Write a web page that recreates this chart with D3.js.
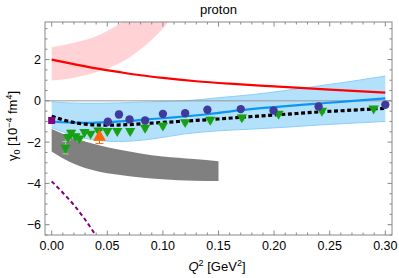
<!DOCTYPE html>
<html><head><meta charset="utf-8">
<script src="https://cdn.jsdelivr.net/npm/d3@7"></script>
<style>body{margin:0;background:#fff}svg{display:block;font-family:"Liberation Sans",Arial,sans-serif}</style>
</head><body>
<svg id="c" width="399" height="278"></svg>
<script>
// ---- data ----
const xTicks = [0.00, 0.05, 0.10, 0.15, 0.20, 0.25, 0.30];
const yTicks = [-6, -4, -2, 0, 2];
const pinkQ     = [0, 0.02, 0.04, 0.06, 0.07, 0.08, 0.10, 0.11];
const pinkLow   = [0.98, 1.12, 1.38, 1.8, 2.1, 2.5, 3.5, 4.2];
const pinkHigh  = [2.6, 2.82, 3.13, 3.7, 4.1, 4.6, 5.5, 6.0];
const redQ = [0, 0.02, 0.04, 0.06, 0.08, 0.10, 0.13, 0.16, 0.20, 0.25, 0.30];
const redV = [2.0, 1.78, 1.57, 1.40, 1.24, 1.11, 0.95, 0.83, 0.70, 0.54, 0.40];
const blueBandQ = [0, 0.03, 0.06, 0.09, 0.12, 0.15, 0.18, 0.21, 0.24, 0.27, 0.30];
const blueBandHigh = [-0.05, -0.12, -0.1, -0.05, 0.0, 0.15, 0.3, 0.5, 0.72, 0.95, 1.2];
const blueBandLow  = [-1.3, -1.82, -1.97, -1.85, -1.6, -1.45, -1.37, -1.28, -1.17, -1.08, -1.0];
const blueQ = [0, 0.03, 0.05, 0.07, 0.09, 0.11, 0.14, 0.17, 0.20, 0.23, 0.26, 0.30];
const blueV = [-1.0, -1.07, -1.03, -0.97, -0.88, -0.8, -0.65, -0.45, -0.3, -0.17, -0.05, 0.12];
const dashQ = [0, 0.01, 0.02, 0.03, 0.04, 0.05, 0.07, 0.09, 0.12, 0.15, 0.18, 0.21, 0.24, 0.27, 0.30];
const dashV = [-0.75, -0.92, -1.05, -1.13, -1.17, -1.18, -1.15, -1.08, -0.98, -0.88, -0.76, -0.65, -0.54, -0.45, -0.36];
const grayQ = [0, 0.02, 0.04, 0.06, 0.08, 0.10, 0.128, 0.15];
const grayHigh = [-1.37, -1.8, -2.12, -2.36, -2.55, -2.7, -2.82, -2.93];
const grayLow  = [-2.45, -3.05, -3.4, -3.58, -3.72, -3.8, -3.87, -3.88];
const purpleQ = [0, 0.01, 0.02, 0.03, 0.04];
const purpleV = [-3.9, -4.45, -5.05, -5.75, -6.55];
const circQ = [0.0505, 0.0605, 0.070, 0.084, 0.100, 0.120, 0.140, 0.170, 0.1995, 0.240, 0.300];
const circV = [-1.01, -0.66, -0.9, -0.95, -0.63, -0.6, -0.43, -0.4, -0.47, -0.27, -0.19];
const circE = [0.12, 0.15, 0.12, 0.12, 0.12, 0.1, 0.1, 0.1, 0.1, 0.1, 0.1];
const triQ = [0.0124, 0.0146, 0.0175, 0.0214, 0.025, 0.0295, 0.035, 0.042, 0.050, 0.059, 0.0706, 0.084, 0.100, 0.120, 0.1426, 0.171, 0.204, 0.243, 0.2895];
const triV = [-2.27, -1.75, -1.55, -1.71, -1.82, -1.51, -1.59, -1.43, -1.46, -1.46, -1.46, -1.3, -1.2, -1.03, -0.92, -0.8, -0.63, -0.48, -0.37];
const triE = [0.3, 0.15, 0.15, 0.12, 0.12, 0.12, 0.1, 0.1, 0.1, 0.1, 0.1, 0.15, 0.12, 0.12, 0.15, 0.15, 0.1, 0.1, 0.1];
const orangeQ = [0.043], orangeV = [-1.75], orangeE = [0.32];
const squareQ = [0], squareV = [-0.95];

// ---- layout ----
const svg = d3.select("#c");
const L = 45, R = 392, T = 22, B = 235;
const x = d3.scaleLinear().domain([-0.006, 0.306]).range([L, R]);
const y = d3.scaleLinear().domain([-6.5, 3.82]).range([B, T]);

svg.append("clipPath").attr("id","clip").append("rect")
  .attr("x", L).attr("y", T).attr("width", R-L).attr("height", B-T);
const g = svg.append("g").attr("clip-path","url(#clip)");

const band = (qs, lo, hi) => d3.area().x((d,i)=>x(qs[i])).y0((d,i)=>y(lo[i])).y1((d,i)=>y(hi[i])).curve(d3.curveMonotoneX)(qs);
const line = (qs, vs) => d3.line().x((d,i)=>x(qs[i])).y((d,i)=>y(vs[i])).curve(d3.curveMonotoneX)(qs);

g.append("path").attr("d", band(pinkQ, pinkLow, pinkHigh)).attr("fill","#ffd3d6");
g.append("path").attr("d", band(blueBandQ, blueBandLow, blueBandHigh)).attr("fill","#b3e0fb");
g.append("path").attr("d", line(blueBandQ, blueBandHigh)).attr("fill","none").attr("stroke","#8ccff7").attr("stroke-width",1);
g.append("path").attr("d", line(blueBandQ, blueBandLow)).attr("fill","none").attr("stroke","#8ccff7").attr("stroke-width",1);
g.append("path").attr("d", band(grayQ, grayLow, grayHigh)).attr("fill","#808080");
// zero axis
g.append("line").attr("x1",L).attr("x2",R).attr("y1",y(0)).attr("y2",y(0)).attr("stroke","#999").attr("stroke-width",1);
g.append("path").attr("d", line(redQ, redV)).attr("fill","none").attr("stroke","#ff0000").attr("stroke-width",2.2);
g.append("path").attr("d", line(blueQ, blueV)).attr("fill","none").attr("stroke","#0a96f5").attr("stroke-width",2.2);
g.append("path").attr("d", line(dashQ, dashV)).attr("fill","none").attr("stroke","#000").attr("stroke-width",3.2).attr("stroke-dasharray","4,2.6");
g.append("path").attr("d", line(purpleQ, purpleV)).attr("fill","none").attr("stroke","#800080").attr("stroke-width",2).attr("stroke-dasharray","4,3");

// error bars helper
function errBars(qs, vs, es, color, cap) {
  qs.forEach((q,i)=>{
    const cx = x(q), y1 = y(vs[i]+es[i]), y2 = y(vs[i]-es[i]);
    g.append("line").attr("x1",cx).attr("x2",cx).attr("y1",y1).attr("y2",y2).attr("stroke",color).attr("stroke-width",1);
    [y1,y2].forEach(yy=>g.append("line").attr("x1",cx-cap).attr("x2",cx+cap).attr("y1",yy).attr("y2",yy).attr("stroke",color).attr("stroke-width",1));
  });
}
errBars(triQ, triV, triE, "#8fdc8f", 3);
errBars(circQ, circV, circE, "#5b57b0", 3);
errBars(orangeQ, orangeV, orangeE, "#ff6600", 4);

const tri = d3.symbol().type(d3.symbolTriangle).size(46);
triQ.forEach((q,i)=>{
  g.append("path").attr("d", tri()).attr("transform",`translate(${x(q)},${y(triV[i])}) rotate(180)`).attr("fill","#16a016");
});
circQ.forEach((q,i)=>{
  g.append("circle").attr("cx",x(q)).attr("cy",y(circV[i])).attr("r",4.2).attr("fill","#3f3a9c");
});
orangeQ.forEach((q,i)=>{
  g.append("path").attr("d", d3.symbol().type(d3.symbolTriangle).size(70)()).attr("transform",`translate(${x(q)},${y(orangeV[i])})`).attr("fill","#ff6600");
});
squareQ.forEach((q,i)=>{
  g.append("rect").attr("x",x(q)-3.5).attr("y",y(squareV[i])-3.5).attr("width",7).attr("height",7).attr("fill","#800080");
});

// frame
const frameCol = "#888";
svg.append("rect").attr("x",L).attr("y",T).attr("width",R-L).attr("height",B-T).attr("fill","none").attr("stroke",frameCol).attr("stroke-width",1);

// ticks
const tg = svg.append("g").attr("stroke",frameCol).attr("stroke-width",1);
const xMinor = d3.range(0, 0.3001, 0.01);
xMinor.forEach(v=>{
  const major = xTicks.some(t=>Math.abs(t-v)<1e-6);
  const len = major ? 4.5 : 2.5;
  const px = x(v);
  tg.append("line").attr("x1",px).attr("x2",px).attr("y1",B).attr("y2",B-len);
  tg.append("line").attr("x1",px).attr("x2",px).attr("y1",T).attr("y2",T+len);
});
const yMinor = d3.range(-6.5, 3.81, 0.5);
yMinor.forEach(v=>{
  const major = yTicks.some(t=>Math.abs(t-v)<1e-6);
  const len = major ? 4.5 : 2.5;
  const py = y(v);
  tg.append("line").attr("x1",L).attr("x2",L+len).attr("y1",py).attr("y2",py);
  tg.append("line").attr("x1",R).attr("x2",R-len).attr("y1",py).attr("y2",py);
});

// tick labels
const fmtX = d3.format(".2f");
svg.append("g").selectAll("text").data(xTicks).join("text")
  .attr("x", d=>x(d)).attr("y", B+15).attr("text-anchor","middle")
  .attr("font-size",12.5).attr("fill","#000").text(d=>fmtX(d));
svg.append("g").selectAll("text").data(yTicks).join("text")
  .attr("x", L-4).attr("y", d=>y(d)+4.5).attr("text-anchor","end")
  .attr("font-size",12.5).attr("fill","#000").text(d=> d<0 ? "\u2212"+Math.abs(d) : String(d));

// title
svg.append("text").attr("x",(L+R)/2).attr("y",14).attr("text-anchor","middle").attr("font-size",13).text("proton");

// x label
const xl = svg.append("text").attr("x",217).attr("y",271).attr("text-anchor","middle").attr("font-size",13);
xl.append("tspan").attr("font-style","italic").text("Q");
xl.append("tspan").attr("font-size",9).attr("dy",-5).text("2");
xl.append("tspan").attr("dy",5).text(" [GeV");
xl.append("tspan").attr("font-size",9).attr("dy",-5).text("2");
xl.append("tspan").attr("dy",5).text("]");

// y label
const yl = svg.append("text").attr("transform","translate(17,126) rotate(-90)").attr("text-anchor","middle").attr("font-size",13);
yl.append("tspan").text("\u03b3");
yl.append("tspan").attr("font-size",9).attr("dy",3).text("0");
yl.append("tspan").attr("dy",-3).text(" [10");
yl.append("tspan").attr("font-size",9).attr("dy",-5).text("\u22124");
yl.append("tspan").attr("dy",5).text(" fm");
yl.append("tspan").attr("font-size",9).attr("dy",-5).text("4");
yl.append("tspan").attr("dy",5).text("]");
</script>
</body></html>
